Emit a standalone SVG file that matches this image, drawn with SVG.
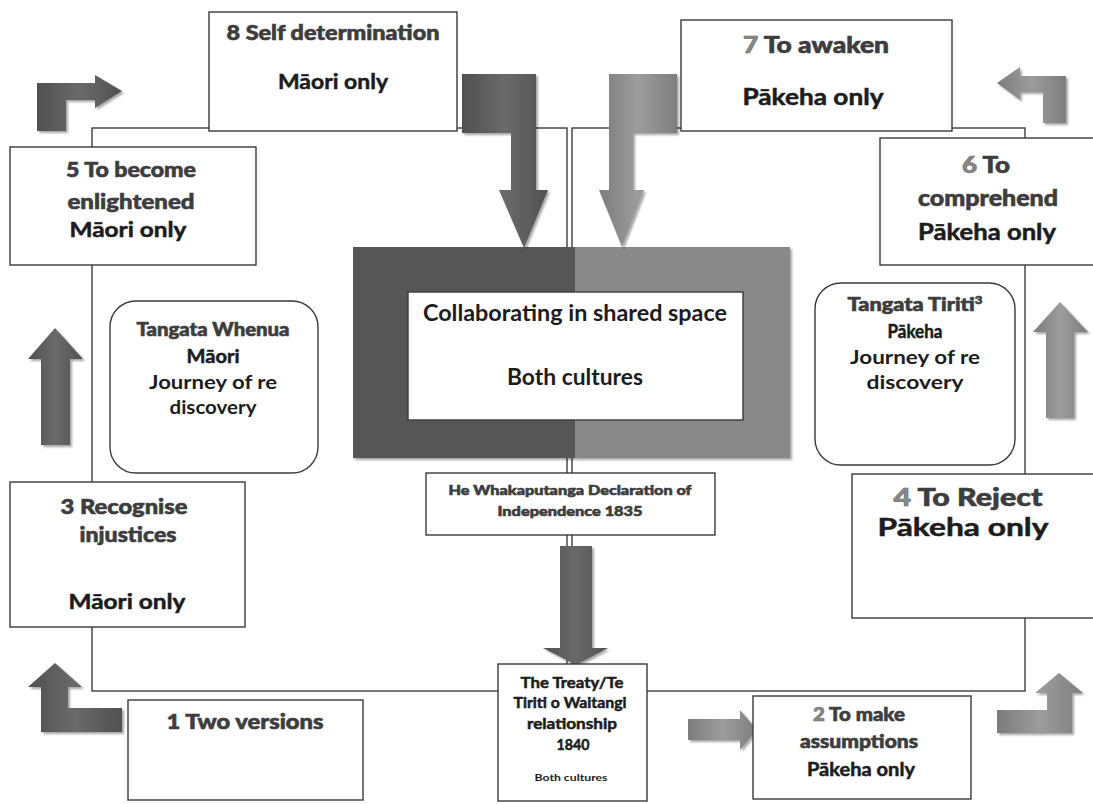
<svg xmlns="http://www.w3.org/2000/svg" width="1093" height="804" viewBox="0 0 1093 804">
<defs>
<style>
.box{fill:#fff;stroke:#3a3a3a;stroke-width:1.4}
.rbox{fill:#fff;stroke:#3a3a3a;stroke-width:1.4}
.ln{fill:none;stroke:#2e2e2e;stroke-width:1.3}
.h{font-family:Lato,"Open Sans","Liberation Sans",sans-serif;font-weight:900;fill:#3d3d3d;stroke:#3d3d3d;stroke-width:0.6;text-anchor:middle}
.k{font-family:Lato,"Open Sans","Liberation Sans",sans-serif;font-weight:bold;fill:#1c1c1c;text-anchor:middle}
.kh{stroke:#1c1c1c;stroke-width:0.5}
.n{fill:#8a8a8a;stroke:#6a6a6a}
.dark{fill:url(#gDark);filter:url(#sh)}
.light{fill:url(#gLight);filter:url(#sh)}
</style>
<linearGradient id="gDark" x1="0" y1="0" x2="1" y2="0">
<stop offset="0" stop-color="#505050"/><stop offset="0.5" stop-color="#6a6a6a"/><stop offset="1" stop-color="#515151"/>
</linearGradient>
<linearGradient id="gLight" x1="0" y1="0" x2="1" y2="0">
<stop offset="0" stop-color="#7c7c7c"/><stop offset="0.5" stop-color="#9c9c9c"/><stop offset="1" stop-color="#7e7e7e"/>
</linearGradient>
<filter id="sh" x="-20%" y="-20%" width="150%" height="150%">
<feDropShadow dx="2" dy="2" stdDeviation="1.2" flood-color="#000" flood-opacity="0.35"/>
</filter>
</defs>

<g id="connectors">
<rect class="ln" x="92" y="128" width="475" height="563"/>
<rect class="ln" x="572" y="128" width="453" height="563"/>
</g>

<g id="shared-space">
<rect x="353" y="247" width="222" height="211" fill="#575757" filter="url(#sh)"/>
<rect x="575" y="247" width="215" height="211" fill="#898989" filter="url(#sh)"/>
<rect class="box" x="408" y="292" width="335" height="128"/>
<text class="k" x="575" y="321" font-size="22" textLength="304" lengthAdjust="spacingAndGlyphs">Collaborating in shared space</text>
<text class="k" x="575" y="385" font-size="22" textLength="136" lengthAdjust="spacingAndGlyphs">Both cultures</text>
</g>

<g id="arrows">
<polygon class="dark" points="462,74 536,74 536,190 548,190 524,248 499,190 511,190 511,133 462,133"/>
<polygon class="light" points="677,74 609,74 609,190 599,190 622,247 644,190 633,190 633,133 677,133"/>
<polygon class="dark" points="560,546 592,546 592,648 608,648 576,665 543,648 560,648"/>
<polygon class="dark" points="37,131 37,83 95,83 95,75 122,91 95,108 95,100 66,100 66,131"/>
<polygon class="light" points="1066,123 1066,76 1020,76 1020,67 997,83 1020,100 1020,92 1043,92 1043,123"/>
<polygon class="dark" points="41,445 41,359 28,359 55,328 83,359 70,359 70,445"/>
<polygon class="light" points="1046,418 1046,332 1033,332 1060,302 1088,332 1074,332 1074,418"/>
<polygon class="dark" points="122,732 41,732 41,687 28,687 55,663 82,687 68,687 68,708 122,708"/>
<polygon class="light" points="997,733 1072,733 1072,693 1083,693 1059,673 1035,693 1047,693 1047,710 997,710"/>
<polygon class="light" points="688,719 740,719 740,710 757,730 740,750 740,740 688,740"/>
</g>

<g id="n8">
<rect class="box" x="209" y="12" width="248" height="119"/>
<text class="h" x="333" y="40" font-size="20" textLength="213" lengthAdjust="spacingAndGlyphs">8 Self determination</text>
<text class="k kh" x="333" y="89" font-size="21" textLength="110" lengthAdjust="spacingAndGlyphs">Māori only</text>
</g>

<g id="n7">
<rect class="box" x="681" y="20" width="271" height="111"/>
<text class="h" x="816" y="53" font-size="22" textLength="146" lengthAdjust="spacingAndGlyphs"><tspan class="n">7</tspan> To awaken</text>
<text class="k kh" x="813" y="105" font-size="22" textLength="141" lengthAdjust="spacingAndGlyphs">Pākeha only</text>
</g>

<g id="n5">
<rect class="box" x="10" y="147" width="246" height="118"/>
<text class="h" x="131" y="177" font-size="21" textLength="130" lengthAdjust="spacingAndGlyphs">5 To become</text>
<text class="h" x="131" y="209" font-size="21" textLength="127" lengthAdjust="spacingAndGlyphs">enlightened</text>
<text class="k kh" x="128" y="237" font-size="21" textLength="117" lengthAdjust="spacingAndGlyphs">Māori only</text>
</g>

<g id="n6">
<rect class="box" x="880" y="138" width="220" height="127"/>
<text class="h" x="986" y="173" font-size="22" textLength="48" lengthAdjust="spacingAndGlyphs"><tspan class="n">6</tspan> To</text>
<text class="h" x="988" y="206" font-size="22" textLength="140" lengthAdjust="spacingAndGlyphs">comprehend</text>
<text class="k kh" x="987" y="240" font-size="22" textLength="138" lengthAdjust="spacingAndGlyphs">Pākeha only</text>
</g>

<g id="whenua">
<rect class="rbox" x="110" y="301" width="208" height="172" rx="26" ry="26"/>
<text class="h" x="213" y="336" font-size="18" textLength="153" lengthAdjust="spacingAndGlyphs">Tangata Whenua</text>
<text class="k kh" x="213" y="363" font-size="18" textLength="53" lengthAdjust="spacingAndGlyphs">Māori</text>
<text class="k" x="213" y="389" font-size="18" textLength="128" lengthAdjust="spacingAndGlyphs">Journey of re</text>
<text class="k" x="213" y="414" font-size="18" textLength="87" lengthAdjust="spacingAndGlyphs">discovery</text>
</g>

<g id="tiriti">
<rect class="rbox" x="815" y="283" width="200" height="182" rx="26" ry="26"/>
<text class="h" x="915" y="311" font-size="18" textLength="135" lengthAdjust="spacingAndGlyphs">Tangata Tiriti<tspan font-size="11" dy="-7">3</tspan></text>
<text class="k kh" x="915" y="338" font-size="18" textLength="55" lengthAdjust="spacingAndGlyphs">Pākeha</text>
<text class="k" x="915" y="364" font-size="18" textLength="130" lengthAdjust="spacingAndGlyphs">Journey of re</text>
<text class="k" x="915" y="389" font-size="18" textLength="97" lengthAdjust="spacingAndGlyphs">discovery</text>
</g>

<g id="declaration">
<rect class="box" x="426" y="473" width="289" height="62"/>
<text class="h" x="570" y="495" font-size="14" textLength="243" lengthAdjust="spacingAndGlyphs">He Whakaputanga Declaration of</text>
<text class="h" x="570" y="516" font-size="14" textLength="145" lengthAdjust="spacingAndGlyphs">Independence 1835</text>
</g>

<g id="n3">
<rect class="box" x="10" y="482" width="235" height="145"/>
<text class="h" x="124" y="514" font-size="21" textLength="127" lengthAdjust="spacingAndGlyphs">3 Recognise</text>
<text class="h" x="128" y="542" font-size="21" textLength="97" lengthAdjust="spacingAndGlyphs">injustices</text>
<text class="k kh" x="127" y="609" font-size="21" textLength="117" lengthAdjust="spacingAndGlyphs">Māori only</text>
</g>

<g id="n4">
<rect class="box" x="852" y="474" width="250" height="144"/>
<text class="h" x="968" y="506" font-size="25" textLength="149" lengthAdjust="spacingAndGlyphs"><tspan class="n">4</tspan> To Reject</text>
<text class="k kh" x="963" y="536" font-size="25" textLength="171" lengthAdjust="spacingAndGlyphs">Pākeha only</text>
</g>

<g id="treaty">
<rect class="box" x="498" y="664" width="149" height="137"/>
<text class="k kh" x="572" y="688" font-size="15" textLength="103" lengthAdjust="spacingAndGlyphs">The Treaty/Te</text>
<text class="k kh" x="570" y="708" font-size="15" textLength="113" lengthAdjust="spacingAndGlyphs">Tiriti o Waitangi</text>
<text class="k kh" x="572" y="729" font-size="15" textLength="90" lengthAdjust="spacingAndGlyphs">relationship</text>
<text class="k kh" x="573" y="750" font-size="15" textLength="33" lengthAdjust="spacingAndGlyphs">1840</text>
<text class="k" x="571" y="781" font-size="10" textLength="73" lengthAdjust="spacingAndGlyphs">Both cultures</text>
</g>

<g id="n1">
<rect class="box" x="128" y="700" width="235" height="100"/>
<text class="h" x="245" y="729" font-size="20" textLength="157" lengthAdjust="spacingAndGlyphs">1 Two versions</text>
</g>

<g id="n2">
<rect class="box" x="753" y="696" width="218" height="103"/>
<text class="h" x="859" y="721" font-size="18" textLength="92" lengthAdjust="spacingAndGlyphs"><tspan class="n">2</tspan> To make</text>
<text class="h" x="859" y="748" font-size="18" textLength="118" lengthAdjust="spacingAndGlyphs">assumptions</text>
<text class="k kh" x="861" y="776" font-size="18" textLength="108" lengthAdjust="spacingAndGlyphs">Pākeha only</text>
</g>
</svg>
